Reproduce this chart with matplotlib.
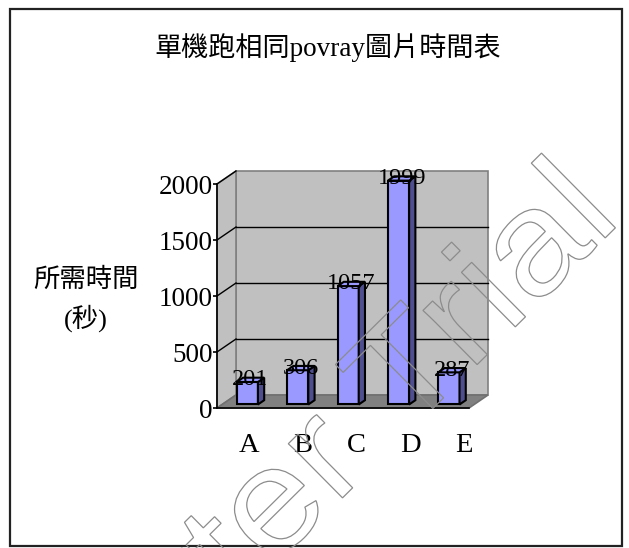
import numpy as np
import matplotlib
matplotlib.use("Agg")
import matplotlib.pyplot as plt
from matplotlib.patches import Polygon, Rectangle, PathPatch
from matplotlib.textpath import TextPath
from matplotlib.font_manager import FontProperties
from matplotlib.transforms import Affine2D

plt.rcParams['font.family'] = ['Liberation Serif', 'Noto Sans CJK TC']

# data
categories = ['A', 'B', 'C', 'D', 'E']
times = [201, 306, 1057, 1999, 287]
yticks = [0, 500, 1000, 1500, 2000]
title = '單機跑相同povray圖片時間表'
ylabel = '所需時間\n(秒)'

W, H = 629, 548
fig = plt.figure(figsize=(W / 100, H / 100), dpi=100)

# front plane of the 3d box, in pixels
x0, x1, yb, yt = 217, 469, 408, 184
ax = fig.add_axes([x0 / W, (H - yb) / H, (x1 - x0) / W, (yb - yt) / H])
ax.set_xlim(-0.5, 4.5)
ax.set_ylim(0, 2000)
ax.patch.set_visible(False)
for s in ['top', 'right']:
    ax.spines[s].set_visible(False)
ax.spines['left'].set_linewidth(1.2)
ax.spines['bottom'].set_linewidth(1.2)
ax.spines['left'].set_zorder(6)
ax.spines['bottom'].set_zorder(6)

# depth offset (19 px right, 13 px up) in data units
ddx = 19 * 5 / (x1 - x0)
ddy = 13 * 2000 / (yb - yt)

wall = '#C0C0C0'
edge = '#808080'
kw = dict(clip_on=False)

ax.add_patch(Rectangle((-0.5 + ddx, ddy), 5, 2000, fc=wall, ec=edge, lw=1.2, zorder=0, **kw))
ax.add_patch(Polygon([(-0.5, 0), (-0.5 + ddx, ddy), (-0.5 + ddx, 2000 + ddy), (-0.5, 2000)],
                     fc=wall, ec=edge, lw=1.2, zorder=0, **kw))
ax.add_patch(Polygon([(-0.5, 0), (4.5, 0), (4.5 + ddx, ddy), (-0.5 + ddx, ddy)],
                     fc='#808080', ec='#707070', lw=1.2, zorder=1, **kw))
for v in yticks[1:]:
    if v < 2000:
        ax.plot([-0.5 + ddx, 4.5 + ddx], [v + ddy, v + ddy], color='black', lw=1, zorder=1, **kw)
    ax.plot([-0.5, -0.5 + ddx], [v, v + ddy], color='black', lw=1, zorder=1, **kw)

# bars
w = 0.42
f0, f1 = 0.27, 0.6
xs = np.arange(len(categories))
ax.bar(xs + f0 * ddx, times, width=w, bottom=f0 * ddy, color='#9999FF',
       edgecolor='black', lw=1.5, zorder=3, **kw)
for x, v in zip(xs, times):
    r = x + w / 2
    l = x - w / 2
    ax.add_patch(Polygon([(r + f0 * ddx, f0 * ddy), (r + f1 * ddx, f1 * ddy),
                          (r + f1 * ddx, v + f1 * ddy), (r + f0 * ddx, v + f0 * ddy)],
                         fc='#4F4F8F', ec='black', lw=1.5, zorder=3, **kw))
    ax.add_patch(Polygon([(l + f0 * ddx, v + f0 * ddy), (r + f0 * ddx, v + f0 * ddy),
                          (r + f1 * ddx, v + f1 * ddy), (l + f1 * ddx, v + f1 * ddy)],
                         fc='#9999FF', ec='black', lw=1.5, zorder=3, **kw))
    fm = (f0 + f1) / 2
    ax.text(x + fm * ddx, v + fm * ddy, str(v), ha='center', va='center',
            fontsize=17.5, zorder=5)

ax.set_yticks(yticks)
ax.tick_params(axis='y', length=3, width=1.2, pad=0, labelsize=19.5, direction='out')
ax.set_xticks([])

# category labels sit on a slightly wider spacing than the bars
sec = ax.secondary_xaxis('bottom', functions=(lambda x: (x - 0.135) / 1.0655,
                                              lambda u: 0.135 + 1.0655 * u))
sec.set_xticks(xs)
sec.set_xticklabels(categories)
sec.tick_params(length=0, pad=18, labelsize=20.5)
sec.spines['bottom'].set_visible(False)

fig.text(328 / W, 1 - 48 / H, title, ha='center', va='center', fontsize=19.5)
fig.text(86 / W, 1 - 300 / H, ylabel, ha='center', va='center', fontsize=19, linespacing=1.55)

# outer frame
fig.patches.append(Rectangle((10 / W, 2 / H), 612 / W, 537 / H, transform=fig.transFigure,
                             fill=False, ec='#222222', lw=1.6))

# trial watermark (outline), "Trial" anchored on its T
fp = FontProperties(family='Liberation Sans')
mark = 'Converter Trial'
tp = TextPath((0, 0), mark, size=145, prop=fp)
t_off = tp.get_extents().x1 - TextPath((0, 0), 'Trial', size=145, prop=fp).get_extents().x1
tr = Affine2D().translate(-t_off, 0).scale(1.12, 1).rotate_deg(44.7).translate(403, H - 438)
fig.add_artist(PathPatch(tr.transform_path(tp), fill=False, ec='#8c8c8c', lw=0.9,
                         transform=None, zorder=10))

fig.savefig('out.png', dpi=100)
